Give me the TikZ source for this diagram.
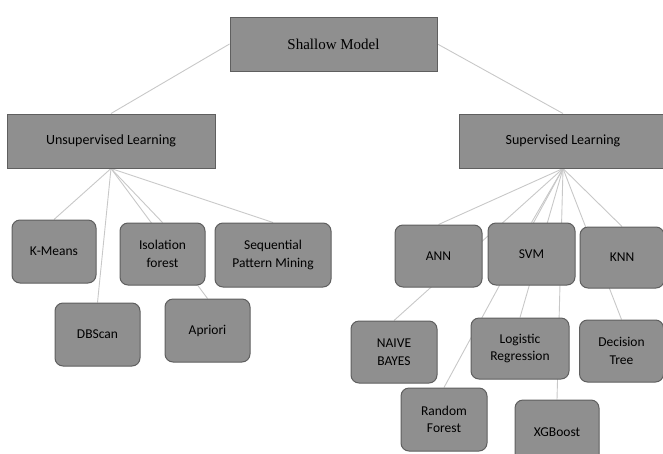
\documentclass[tikz,border=0pt]{standalone}
\usepackage{fontspec}
\setmainfont{Carlito}
\newfontfamily\serifface{Liberation Serif}
\usetikzlibrary{backgrounds}
\definecolor{boxfill}{RGB}{143,143,143}
\definecolor{boxline}{RGB}{95,95,95}
\definecolor{linkcol}{RGB}{200,200,200}
\tikzset{
  topbox/.style={draw=boxline, line width=1pt, fill=boxfill, rectangle, inner sep=0pt,
    font=\fontsize{14}{16}\selectfont, text=black},
  leafbox/.style={draw=boxline, line width=1pt, fill=boxfill, rectangle, rounded corners=8pt,
    inner sep=0pt, align=center, font=\fontsize{13.5}{17.5}\selectfont, text=black},
  link/.style={draw=linkcol, line width=0.9pt}
}
\begin{document}
\begin{tikzpicture}[x=1pt,y=-1pt]
\useasboundingbox (0,0) rectangle (663,453);
% top level
\node[topbox, minimum width=207pt, minimum height=54pt, font=\serifface\fontsize{15}{17}\selectfont] (shallow) at (333.5,44) {Shallow Model};
\node[topbox, minimum width=208pt, minimum height=54pt] (unsup) at (111,141) {Unsupervised Learning};
\node[topbox, minimum width=208pt, minimum height=54pt] (sup) at (563,141) {Supervised Learning};
% unsupervised leaves
\node[leafbox, minimum width=84pt, minimum height=63pt] (kmeans) at (54,251.5) {K-Means};
\node[leafbox, minimum width=85pt, minimum height=62pt] (iso) at (162.5,254) {Isolation\\forest};
\node[leafbox, minimum width=116pt, minimum height=64pt] (seq) at (273,255) {Sequential\\Pattern Mining};
\node[leafbox, minimum width=85pt, minimum height=63pt] (dbscan) at (97.5,334.5) {DBScan};
\node[leafbox, minimum width=85pt, minimum height=63pt] (apriori) at (207.5,330.5) {Apriori};
% supervised leaves
\node[leafbox, minimum width=87pt, minimum height=62pt] (ann) at (438.5,256) {ANN};
\node[leafbox, minimum width=87pt, minimum height=62pt] (svm) at (531.5,254) {SVM};
\node[leafbox, minimum width=84pt, minimum height=61pt] (knn) at (622,257.5) {KNN};
\node[leafbox, minimum width=86pt, minimum height=62pt] (nb) at (394,352) {NAIVE\\BAYES};
\node[leafbox, minimum width=98pt, minimum height=61pt] (logreg) at (520,348.5) {Logistic\\Regression};
\node[leafbox, minimum width=84pt, minimum height=62pt] (dtree) at (621.5,351) {Decision\\Tree};
\node[leafbox, minimum width=86pt, minimum height=63pt] (rf) at (444,419.5) {Random\\Forest};
\node[leafbox, minimum width=84pt, minimum height=64pt] (xgb) at (557,432) {XGBoost};
% connectors behind the boxes
\begin{pgfonlayer}{background}
\draw[link] (shallow.west) -- (unsup.north);
\draw[link] (shallow.east) -- (sup.north);
\foreach \c in {kmeans,dbscan,iso,apriori,seq}
  \draw[link] (unsup.south) -- (\c.north);
\foreach \c in {ann,svm,knn,nb,logreg,dtree,rf,xgb}
  \draw[link] (sup.south) -- (\c.north);
\end{pgfonlayer}
\end{tikzpicture}
\end{document}
